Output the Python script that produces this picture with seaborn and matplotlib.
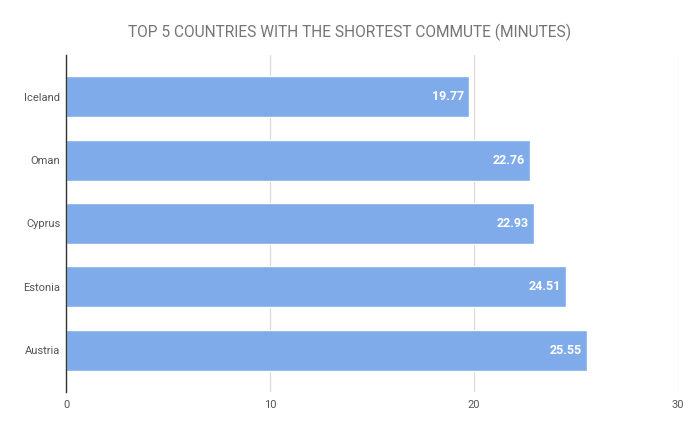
import matplotlib
matplotlib.use("Agg")
import matplotlib.pyplot as plt
import seaborn as sns
import pandas as pd

countries = ["Iceland", "Oman", "Cyprus", "Estonia", "Austria"]
minutes = [19.77, 22.76, 22.93, 24.51, 25.55]
x_ticks = [0, 10, 20, 30]

df = pd.DataFrame({"Country": countries, "Minutes": minutes})

sns.set_style("white")
plt.rcParams["font.family"] = ["Roboto", "DejaVu Sans"]

fig = plt.figure(figsize=(7, 4.32), dpi=100)
ax = fig.add_axes([0.0943, 0.0926, 0.8743, 0.7801])

sns.barplot(data=df, x="Minutes", y="Country", color="#80abea", saturation=1,
            width=0.65, ax=ax, zorder=2)

ax.set_xlim(0, 30)
ax.set_ylim(4.66, -0.66)
ax.set_xticks(x_ticks)
ax.set_xticklabels([str(t) for t in x_ticks])
ax.grid(axis="x", color="#dadada", linewidth=0.9, zorder=0)
ax.set_axisbelow(True)
for s in ["top", "right", "bottom"]:
    ax.spines[s].set_visible(False)
ax.spines["left"].set_color("#333333")
ax.spines["left"].set_linewidth(1)
ax.tick_params(axis="both", length=0, labelsize=8, labelcolor="#555555")
ax.tick_params(axis="x", pad=6)
ax.tick_params(axis="y", pad=4)
ax.set_xlabel("")
ax.set_ylabel("")

for i, v in enumerate(minutes):
    ax.text(v - 0.25, i, f"{v:.2f}", ha="right", va="center", color="white",
            fontsize=9, fontweight="bold")

fig.text(0.5, 0.926, "TOP 5 COUNTRIES WITH THE SHORTEST COMMUTE (MINUTES)",
         ha="center", va="center", fontsize=11.2, color="#757575")

fig.savefig("out.png", dpi=100)
